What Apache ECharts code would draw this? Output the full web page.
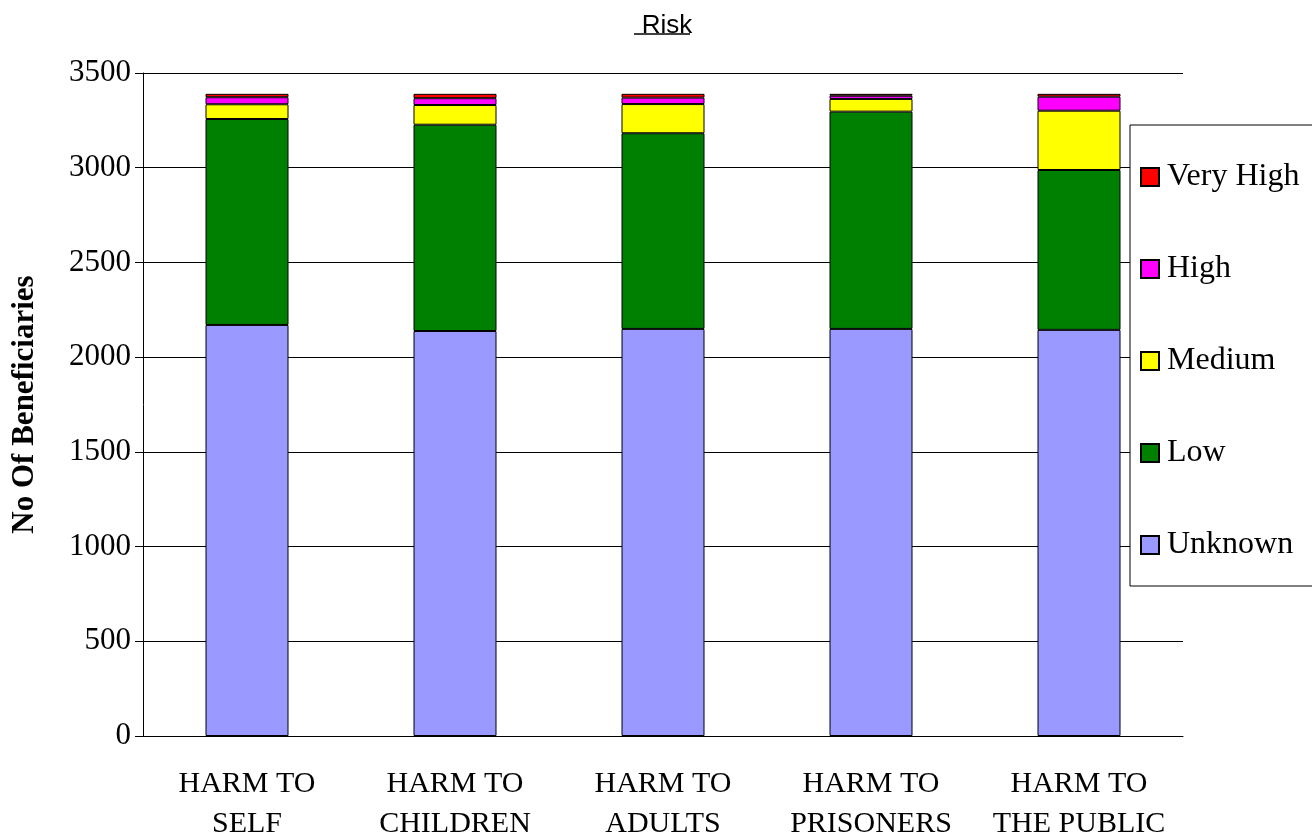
<!DOCTYPE html>
<html><head><meta charset="utf-8">
<script src="https://cdn.jsdelivr.net/npm/echarts@6/dist/echarts.min.js"></script>
<style>html,body{margin:0;padding:0;background:#fff}#c{width:1312px;height:837px}</style>
</head><body><div id="c"></div>
<script>
const categories = ['HARM TO\nSELF','HARM TO\nCHILDREN','HARM TO\nADULTS','HARM TO\nPRISONERS','HARM TO\nTHE PUBLIC'];
const unknown  = [2170, 2138, 2149, 2149, 2144];
const low      = [1087, 1089, 1033, 1147, 844];
const medium   = [78, 104, 154, 67, 313];
const high     = [37, 36, 34, 17, 74];
const veryHigh = [18, 23, 20, 10, 15];
const yTicks = [0, 500, 1000, 1500, 2000, 2500, 3000, 3500];

const serif = '"Liberation Serif","Times New Roman",serif';
const mk = (name, data, color) => ({
  name, type: 'bar', stack: 'all', data, barWidth: 83,
  itemStyle: { color, borderColor: '#000', borderWidth: 1 }
});
const chart = echarts.init(document.getElementById('c'));
chart.setOption({
  animation: false,
  title: { text: 'Risk', left: 662, top: 8, textAlign: 'center',
    textStyle: { fontFamily: '"Liberation Sans",Arial,sans-serif', fontSize: 26, fontWeight: 'normal', color: '#000' } },
  graphic: [{ type: 'line', z: 100, shape: { x1: 634, y1: 34, x2: 690, y2: 34 }, style: { stroke: '#000', lineWidth: 1.5 } }],
  grid: { left: 143, right: 129, top: 73, bottom: 101, outerBoundsMode: 'none', containLabel: false },
  legend: {
    orient: 'vertical', left: 1130, top: 125,
    data: ['Very High', 'High', 'Medium', 'Low', 'Unknown'],
    itemWidth: 18, itemHeight: 18, itemGap: 60,
    padding: [36, 60, 25, 10],
    backgroundColor: '#fff',
    borderColor: '#000', borderWidth: 1,
    textStyle: { fontFamily: serif, fontSize: 32, color: '#000', padding: [0, 0, 0, 3] },
    icon: 'rect'
  },
  xAxis: {
    type: 'category', data: categories,
    axisLine: { lineStyle: { color: '#000' } },
    axisTick: { length: 8, lineStyle: { color: '#000' } },
    axisLabel: { interval: 0, fontFamily: serif, fontSize: 30, color: '#000', lineHeight: 40, margin: 28, hideOverlap: false }
  },
  yAxis: {
    type: 'value', min: 0, max: 3500, interval: 500,
    name: 'No Of Beneficiaries', nameLocation: 'middle', nameGap: 103, nameRotate: 90,
    nameTextStyle: { fontFamily: serif, fontSize: 31, fontWeight: 'bold', color: '#000' },
    axisLine: { show: true, lineStyle: { color: '#000' } },
    axisTick: { show: true, length: 8, lineStyle: { color: '#000' } },
    axisLabel: { fontFamily: serif, fontSize: 31, color: '#000', margin: 12,
      formatter: v => yTicks.includes(v) ? String(v) : '' },
    splitLine: { lineStyle: { color: '#000', width: 1 } }
  },
  series: [
    mk('Unknown', unknown, '#9999ff'),
    mk('Low', low, '#008000'),
    mk('Medium', medium, '#ffff00'),
    mk('High', high, '#ff00ff'),
    mk('Very High', veryHigh, '#ff0000')
  ]
});
</script></body></html>
